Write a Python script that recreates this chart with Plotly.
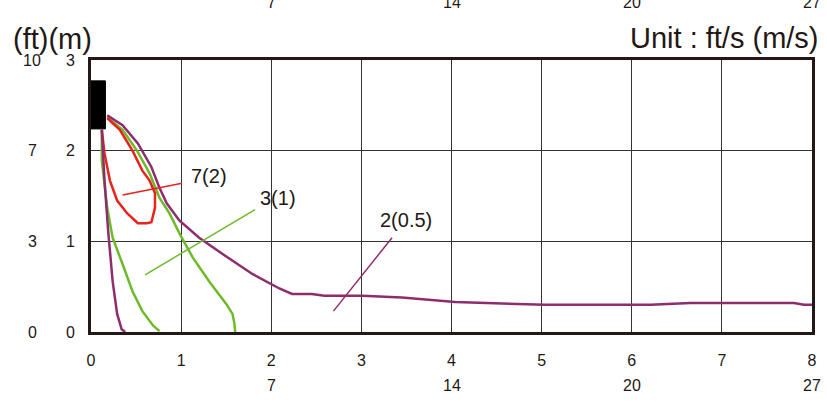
import plotly.graph_objects as go

# axis ticks (m) and the matching ft labels
m_ticks_x = [0, 1, 2, 3, 4, 5, 6, 7, 8]
ft_ticks_x_pos = [2, 4, 6, 8]
ft_ticks_x_text = ["7", "14", "20", "27"]
m_ticks_y = [0, 1, 2, 3]
ft_ticks_y_text = ["0", "3", "7", "10"]

# nozzle block
nozzle_x = [0, 0.16, 0.16, 0, 0]
nozzle_y = [2.24, 2.24, 2.77, 2.77, 2.24]

# 2(0.5) envelope - outer and inner edge
purple_outer_x = [0.18, 0.35, 0.52, 0.67, 0.76, 0.84, 0.98, 1.20, 1.46, 1.79, 2.09, 2.23,
                  2.45, 2.59, 3.01, 3.45, 4.04, 4.60, 5.03, 6.21, 6.65, 7.80, 7.91, 8.0]
purple_outer_y = [2.39, 2.28, 2.08, 1.82, 1.59, 1.42, 1.23, 1.04, 0.86, 0.64, 0.48, 0.42,
                  0.42, 0.40, 0.40, 0.38, 0.33, 0.31, 0.30, 0.30, 0.32, 0.32, 0.30, 0.30]
purple_inner_x = [0.12, 0.15, 0.19, 0.24, 0.29, 0.34, 0.38]
purple_inner_y = [2.23, 1.67, 1.12, 0.56, 0.20, 0.03, 0.0]

# 3(1) envelope
green_outer_x = [0.18, 0.35, 0.51, 0.65, 0.76, 0.87, 0.98, 1.13, 1.31, 1.50, 1.57, 1.59, 1.60]
green_outer_y = [2.37, 2.23, 2.00, 1.75, 1.48, 1.31, 1.09, 0.82, 0.56, 0.31, 0.20, 0.10, 0.0]
green_inner_x = [0.12, 0.12, 0.18, 0.24, 0.35, 0.46, 0.57, 0.69, 0.76]
green_inner_y = [2.23, 1.89, 1.37, 1.04, 0.75, 0.45, 0.23, 0.07, 0.01]

# 7(2) envelope (closed loop)
red_x = [0.18, 0.32, 0.46, 0.57, 0.65, 0.71, 0.71, 0.67, 0.62, 0.52, 0.40, 0.29, 0.21, 0.15, 0.12]
red_y = [2.36, 2.23, 2.00, 1.78, 1.67, 1.53, 1.37, 1.21, 1.20, 1.20, 1.31, 1.45, 1.67, 1.97, 2.23]

# labels with leader lines
labels = ["7(2)", "3(1)", "2(0.5)"]
label_x = [1.09, 1.85, 3.18]
label_y = [1.72, 1.48, 1.23]
leader_x = [[0.35, 1.01], [0.60, 1.82], [2.69, 3.34]]
leader_y = [[1.51, 1.64], [0.63, 1.35], [0.23, 1.04]]

purple = "#8E2D6E"
green = "#6DBB2B"
red = "#E8231B"
ink = "#231815"
font = "Liberation Sans, Arial, sans-serif"

fig = go.Figure()

fig.add_trace(go.Scatter(x=green_outer_x + [None] + green_inner_x,
                         y=green_outer_y + [None] + green_inner_y,
                         mode="lines", line=dict(color=green, width=2.5)))
fig.add_trace(go.Scatter(x=red_x, y=red_y, mode="lines", line=dict(color=red, width=2.5)))
fig.add_trace(go.Scatter(x=purple_outer_x + [None] + purple_inner_x,
                         y=purple_outer_y + [None] + purple_inner_y,
                         mode="lines", line=dict(color=purple, width=2.5)))
fig.add_trace(go.Scatter(x=nozzle_x, y=nozzle_y, mode="lines", fill="toself",
                         fillcolor="#000000", line=dict(color="#000000", width=1)))

for lx, ly, c in zip(leader_x, leader_y, [red, green, purple]):
    fig.add_trace(go.Scatter(x=lx, y=ly, mode="lines", line=dict(color=c, width=1.5)))

for t, x, y in zip(labels, label_x, label_y):
    fig.add_annotation(x=x, y=y, text=t, showarrow=False, xanchor="left", yanchor="middle",
                       font=dict(size=20, color=ink))

# ft labels below the m tick labels, and the cropped copy at the very top
for x, t in zip(ft_ticks_x_pos, ft_ticks_x_text):
    fig.add_annotation(x=x, y=0, yref="paper", text=t, showarrow=False, yanchor="middle",
                       yshift=-53, font=dict(size=16, color=ink))
    fig.add_annotation(x=x, y=1, yref="paper", text=t, showarrow=False, yanchor="middle",
                       yshift=58, font=dict(size=16, color=ink))

for y, t in zip(m_ticks_y, ft_ticks_y_text):
    fig.add_annotation(x=0, xref="paper", y=y, text=t, showarrow=False, xanchor="center",
                       xshift=-59, font=dict(size=16, color=ink))

fig.add_annotation(x=0, xref="paper", y=1, yref="paper", text="(ft)(m)", showarrow=False,
                   xanchor="left", yanchor="middle", xshift=-80, yshift=21,
                   font=dict(size=29, color=ink))
fig.add_annotation(x=1, xref="paper", y=1, yref="paper", text="Unit : ft/s (m/s)",
                   showarrow=False, xanchor="right", yanchor="middle", xshift=9, yshift=22,
                   font=dict(size=29, color=ink))

axis_style = dict(showgrid=True, gridcolor="#333333", gridwidth=1, zeroline=False,
                  showline=True, mirror=True, linecolor=ink, linewidth=3,
                  ticks="", tickfont=dict(size=16, color=ink))
fig.update_xaxes(range=[0, 8], tickvals=m_ticks_x, ticklabelstandoff=12, **axis_style)
fig.update_yaxes(range=[0, 3], tickvals=m_ticks_y, ticklabelstandoff=10, **axis_style)

fig.update_layout(width=827, height=405, margin=dict(l=91, r=10, t=60, b=73),
                  showlegend=False, plot_bgcolor="white", paper_bgcolor="white",
                  font=dict(family=font, color=ink))

fig.write_html("out.html", config={"displayModeBar": False},
               post_script="document.body.style.margin='0';")
